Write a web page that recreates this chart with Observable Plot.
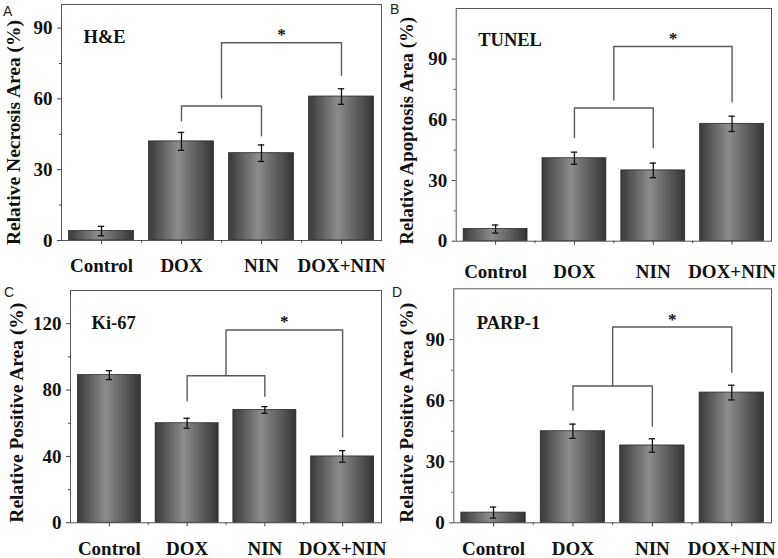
<!DOCTYPE html>
<html>
<head>
<meta charset="utf-8">
<script src="https://cdn.jsdelivr.net/npm/d3@7"></script>
<script src="https://cdn.jsdelivr.net/npm/@observablehq/plot@0.6"></script>
<style>
  html, body { margin: 0; padding: 0; background: #fff; }
  #fig { position: relative; width: 778px; height: 558px; background: #fff; overflow: hidden; }
  .panel { position: absolute; }
  .letter { position: absolute; font-family: "Liberation Sans", Arial, sans-serif; font-size: 14px; color: #222; line-height: 1; }
</style>
</head>
<body>
<svg width="0" height="0" style="position:absolute">
  <defs>
    <linearGradient id="barGrad" x1="0" x2="1" y1="0" y2="0">
      <stop offset="0" stop-color="#3a3a3a"/>
      <stop offset="0.45" stop-color="#8c8c8c"/>
      <stop offset="1" stop-color="#343434"/>
    </linearGradient>
  </defs>
</svg>
<div id="fig"></div>
<script>
// ---- data ----
const categories = ["Control", "DOX", "NIN", "DOX+NIN"];

const necrosis = [4, 42, 37, 61];
const necrosisErr = [2, 3.8, 3.5, 3.3];

const apoptosis = [6, 41, 35, 58];
const apoptosisErr = [2, 3, 3.6, 3.8];

const ki67 = [89, 60, 68, 40];
const ki67Err = [2.7, 3, 2, 3.5];

const parp1 = [5, 45, 38, 64];
const parp1Err = [2.7, 3.5, 3.3, 3.6];

// brackets: [fromIndex, toIndex, topValue, leftLegEnd, rightLegEnd]
const bracketsA = [[1, 2, 57, 50.7, 44.4], [1.5, 3, 83.8, 60.3, 70]];
const bracketsB = [[1, 2, 65.8, 51.2, 46.2], [1.5, 3, 96.2, 69.8, 68.9]];
const bracketsC = [[1, 2, 88.6, 73.6, 76.2], [1.5, 3, 116.2, 88.6, 51.7]];
const bracketsD = [[1, 2, 67.2, 55.4, 47.5], [1.5, 3, 96.2, 67.2, 74]];

const yTicksA = [0, 30, 60, 90], yMinorA = [15, 45, 75];
const yTicksC = [0, 40, 80, 120], yMinorC = [20, 60, 100];

const SERIF = "'Liberation Serif', 'Times New Roman', Times, serif";

function panel(cfg) {
  const rows = categories.map((c, i) => ({i, c, v: cfg.values[i], e: cfg.errors[i]}));
  const bracketPts = [];
  cfg.brackets.forEach((b, k) => {
    bracketPts.push({k, x: b[0], y: b[3]}, {k, x: b[0], y: b[2]}, {k, x: b[1], y: b[2]}, {k, x: b[1], y: b[4]});
  });
  const outer = cfg.brackets[cfg.brackets.length - 1];
  const half = 0.405, cap = 0.04;
  return Plot.plot({
    width: 389, height: 279,
    marginLeft: cfg.m[0], marginRight: cfg.m[1], marginTop: cfg.m[2], marginBottom: cfg.m[3],
    style: {fontFamily: SERIF, fontWeight: "bold", background: "transparent", color: "#111", overflow: "visible"},
    x: {type: "linear", domain: [-0.5, 3.5]},
    y: {domain: [0, cfg.ymax]},
    marks: [
      Plot.rectY(rows, {x1: d => d.i - half, x2: d => d.i + half, y1: 0, y2: "v", fill: "url(#barGrad)", stroke: "#2a2a2a", strokeWidth: 0.8}),
      Plot.ruleX(rows, {x: "i", y1: d => d.v - d.e, y2: d => d.v + d.e, stroke: "#111", strokeWidth: 1.3}),
      Plot.ruleY(rows, {y: d => d.v + d.e, x1: d => d.i - cap, x2: d => d.i + cap, stroke: "#111", strokeWidth: 1.3}),
      Plot.ruleY(rows, {y: d => d.v - d.e, x1: d => d.i - cap, x2: d => d.i + cap, stroke: "#111", strokeWidth: 1.3}),
      Plot.line(bracketPts, {x: "x", y: "y", z: "k", stroke: "#5a5a5a", strokeWidth: 1.4, curve: "linear"}),
      Plot.text([{x: (outer[0] + outer[1]) / 2, y: outer[2]}], {x: "x", y: "y", text: () => "*", fontSize: 17, dy: -8, fill: "#111"}),
      Plot.frame({stroke: "#555", strokeWidth: 1}),
      Plot.axisY({ticks: cfg.yTicks, tickSize: 4, tickPadding: 5, fontSize: 19, label: null, stroke: "#444"}),
      Plot.axisY({ticks: cfg.yMinor, tickSize: 2, tickFormat: () => "", label: null, stroke: "#444"}),
      Plot.axisX({ticks: [0, 1, 2, 3], tickFormat: i => categories[i], tickSize: 4, tickPadding: cfg.xpad, fontSize: 19, label: null, stroke: "#444"}),
      Plot.axisX({ticks: [0.5, 1.5, 2.5], tickFormat: () => "", tickSize: 2.5, label: null, stroke: "#444"}),
      Plot.text([cfg.ylabel], {frameAnchor: "left", text: d => d, rotate: -90, textAnchor: "middle", lineAnchor: "middle", dx: cfg.ylab[0], dy: cfg.ylab[1], fontSize: cfg.ylab[2], fill: "#111"}),
      Plot.text([cfg.tag], {frameAnchor: "top-left", text: d => d, textAnchor: "start", lineAnchor: "top", dx: cfg.tagPos[0], dy: cfg.tagPos[1], fontSize: 18.5, fill: "#111"})
    ]
  });
}

const fig = document.getElementById("fig");
const specs = [
  {left: 0, top: 0, values: necrosis, errors: necrosisErr, brackets: bracketsA, ymax: 100,
   yTicks: yTicksA, yMinor: yMinorA, m: [61, 8, 4, 39], xpad: 14,
   ylabel: "Relative Necrosis Area (%)", ylab: [-48, 10, 19.5], tag: "H&E", tagPos: [22, 25],
   letter: "A", lx: 3, ly: 4},
  {left: 389, top: 0, values: apoptosis, errors: apoptosisErr, brackets: bracketsB, ymax: 115,
   yTicks: yTicksA, yMinor: yMinorA, m: [66.7, 7, 8, 38.3], xpad: 19,
   ylabel: "Relative Apoptosis Area (%)", ylab: [-49, 6, 18.8], tag: "TUNEL", tagPos: [22, 24],
   letter: "B", lx: 390, ly: 2},
  {left: 0, top: 279, values: ki67, errors: ki67Err, brackets: bracketsC, ymax: 140,
   yTicks: yTicksC, yMinor: yMinorC, m: [70, 8, 11, 35.7], xpad: 15,
   ylabel: "Relative Positive Area (%)", ylab: [-54, 6, 19.5], tag: "Ki-67", tagPos: [21, 25],
   letter: "C", lx: 4, ly: 285},
  {left: 389, top: 279, values: parp1, errors: parp1Err, brackets: bracketsD, ymax: 115,
   yTicks: yTicksA, yMinor: yMinorA, m: [64.3, 7, 9.3, 35.7], xpad: 15,
   ylabel: "Relative Positive Area (%)", ylab: [-47, 7, 19.5], tag: "PARP-1", tagPos: [23, 27],
   letter: "D", lx: 392, ly: 285}
];
for (const s of specs) {
  const svg = panel(s);
  svg.classList.add("panel");
  svg.style.left = s.left + "px";
  svg.style.top = s.top + "px";
  fig.appendChild(svg);
  const l = document.createElement("div");
  l.className = "letter";
  l.textContent = s.letter;
  l.style.left = s.lx + "px";
  l.style.top = s.ly + "px";
  fig.appendChild(l);
}
</script>
</body>
</html>
